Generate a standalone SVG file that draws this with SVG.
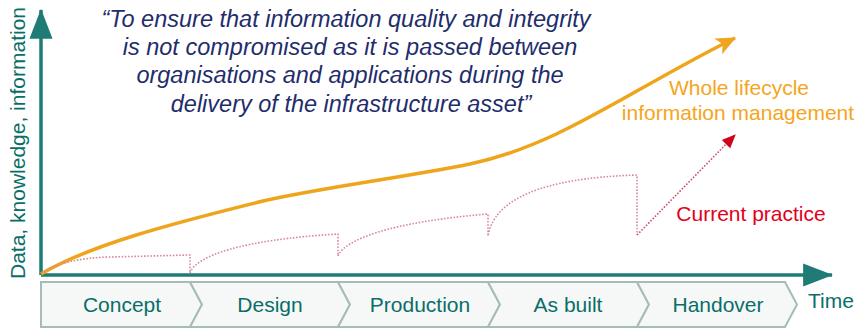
<svg xmlns="http://www.w3.org/2000/svg" width="860" height="329" viewBox="0 0 860 329">
<style>
text{font-family:"Liberation Sans",Arial,sans-serif;font-size:21px}
.quote{fill:#1f2d6b;font-style:italic;text-anchor:middle;font-size:23.5px}
.teal{fill:#0a6e68}
.stage{fill:#0a6e68;text-anchor:middle}
.chev{fill:#f6f8f8;stroke:#a7bbb9;stroke-width:2}
.axis{stroke:#1f7b75;stroke-width:3.5;fill:none}
.dot{fill:none;stroke:#d78a9a;stroke-width:1.6;stroke-dasharray:1.6 1.6}
</style>
<defs>
<marker id="ax" markerUnits="userSpaceOnUse" markerWidth="30" markerHeight="24" refX="25" refY="10" orient="auto" viewBox="0 0 26 20"><path d="M0,0 L26,10 L0,20 Z" fill="#1f7b75"/></marker>
<marker id="ora" markerUnits="userSpaceOnUse" markerWidth="20" markerHeight="20" refX="15" refY="7" orient="auto" viewBox="0 0 16 14"><path d="M0,0 L16,7 L0,14 L4,7 Z" fill="#f0a51f"/></marker>
<marker id="red" markerUnits="userSpaceOnUse" markerWidth="14" markerHeight="14" refX="11" refY="5" orient="auto" viewBox="0 0 12 10"><path d="M0,0 L12,5 L0,10 Z" fill="#d0021b"/></marker>
</defs>
<rect width="860" height="329" fill="#ffffff"/>
<g id="stages">
<g id="concept"><path class="chev" d="M41,282 L190,282 L202,304.5 L190,327 L41,327 Z"/><text class="stage" x="122" y="312">Concept</text></g>
<g id="design"><path class="chev" d="M190,282 L338,282 L350,304.5 L338,327 L190,327 L202,304.5 Z"/><text class="stage" x="270" y="312">Design</text></g>
<g id="production"><path class="chev" d="M338,282 L488,282 L500,304.5 L488,327 L338,327 L350,304.5 Z"/><text class="stage" x="420" y="312">Production</text></g>
<g id="asbuilt"><path class="chev" d="M488,282 L637,282 L649,304.5 L637,327 L488,327 L500,304.5 Z"/><text class="stage" x="568" y="312">As built</text></g>
<g id="handover"><path class="chev" d="M637,282 L785,282 L797,304.5 L785,327 L637,327 L649,304.5 Z"/><text class="stage" x="718" y="312">Handover</text></g>
</g>
<g id="connectors">
<path class="axis" d="M41,275 L41,10" marker-end="url(#ax)"/>
<path class="axis" d="M41,275 L832,275" marker-end="url(#ax)"/>
<path d="M41,274 C90,245 170,224 263,201 C320,188 400,178 470,164 C560,145 630,90 735,38" fill="none" stroke="#eea51c" stroke-width="3.5" marker-end="url(#ora)"/>
<path class="dot" d="M41,273 Q65,258 110,257 L190,255 L190,273 C196,256 240,240 338,234 L338,256 C344,240 390,222 488,214 L488,236 C494,200 540,178 637,175 L637,235"/>
<path d="M637,235 L735,135" fill="none" stroke="#c75370" stroke-width="1.6" stroke-dasharray="1.6 1.6" marker-end="url(#red)"/>
</g>
<g id="labels">
<text class="teal" transform="translate(25,143) rotate(-90)" text-anchor="middle">Data, knowledge, information</text>
<text class="teal" x="808" y="308">Time</text>
<text class="quote" x="346" y="27">“To ensure that information quality and integrity</text>
<text class="quote" x="350" y="55">is not compromised as it is passed between</text>
<text class="quote" x="350" y="83">organisations and applications during the</text>
<text class="quote" x="351" y="112">delivery of the infrastructure asset”</text>
<text x="739" y="95" fill="#f5a51c" text-anchor="middle">Whole lifecycle</text>
<text x="738" y="120" fill="#f5a51c" text-anchor="middle">information management</text>
<text x="751" y="221" fill="#e3001b" text-anchor="middle">Current practice</text>
</g>
</svg>
